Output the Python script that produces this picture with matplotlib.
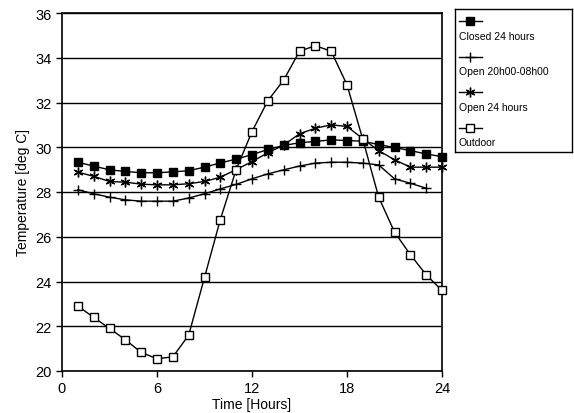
import matplotlib
matplotlib.use('Agg')
import matplotlib.pyplot as plt

plt.rcParams['font.family'] = ['Liberation Sans', 'DejaVu Sans']

# hourly temperatures
hours = list(range(1, 25))
closed_24h = [29.33, 29.16, 28.99, 28.92, 28.86, 28.86, 28.9, 28.95, 29.11, 29.3, 29.47, 29.67,
              29.9, 30.08, 30.2, 30.26, 30.33, 30.3, 30.27, 30.12, 29.99, 29.85, 29.7, 29.58]
open_night = [28.1, 27.92, 27.77, 27.65, 27.59, 27.59, 27.59, 27.73, 27.92, 28.14, 28.34, 28.59,
              28.81, 28.99, 29.16, 29.29, 29.33, 29.33, 29.29, 29.21, 28.59, 28.39, 28.17]
open_24h = [28.89, 28.7, 28.47, 28.44, 28.35, 28.32, 28.32, 28.37, 28.47, 28.66, 29.0, 29.36,
            29.75, 30.1, 30.6, 30.85, 31.0, 30.93, 30.38, 29.85, 29.44, 29.11, 29.11, 29.11]
outdoor = [22.9, 22.4, 21.9, 21.4, 20.83, 20.55, 20.63, 21.6, 24.18, 26.77, 29.0, 30.7,
           32.08, 33.0, 34.29, 34.54, 34.29, 32.79, 30.35, 27.77, 26.21, 25.2, 24.3, 23.6]

labels = ['Closed 24 hours', 'Open 20h00-08h00', 'Open 24 hours', 'Outdoor']
styles = [dict(marker='s', markersize=5.5, markerfacecolor='black'),
          dict(marker='+', markersize=7, markeredgewidth=1.0),
          dict(marker=(6, 2, 0), markersize=7, markeredgewidth=1.0),
          dict(marker='s', markersize=5.5, markerfacecolor='white')]
series = [(hours, closed_24h), (hours[:len(open_night)], open_night), (hours, open_24h), (hours, outdoor)]

fig = plt.figure(figsize=(5.74, 4.14), dpi=100)
ax = fig.add_axes([62 / 574, 1 - 372 / 414, 380 / 574, 358 / 414])

for (x, y), st in zip(series, styles):
    ax.plot(x, y, color='black', linewidth=1.0, markeredgecolor='black', clip_on=False, zorder=3, **st)

ax.set_xlim(0, 24)
ax.set_ylim(20, 36)
ax.set_xticks([0, 6, 12, 18, 24])
ax.set_yticks(range(20, 37, 2))
ax.yaxis.grid(True, color='black', linewidth=1.0)
ax.set_axisbelow(True)
ax.tick_params(direction='out', length=4, width=1, labelsize=10.5, colors='black')
for sp in ax.spines.values():
    sp.set_linewidth(1.2)
ax.set_xlabel('Time [Hours]', fontsize=10, labelpad=1)
ax.set_ylabel('Temperature [deg C]', fontsize=10, labelpad=4)

# legend: handle line on top, label underneath
lax = fig.add_axes([455 / 574, 1 - 153 / 414, 117 / 574, 143 / 414])
lax.set_xlim(0, 1)
lax.set_ylim(0, 1)
lax.set_xticks([])
lax.set_yticks([])
for sp in lax.spines.values():
    sp.set_linewidth(1.0)
for i, (lab, st) in enumerate(zip(labels, styles)):
    yh = 1 - (12 + i * 35.5) / 143
    yt = 1 - (27 + i * 35.5) / 143
    lax.plot([0.03, 0.13, 0.23], [yh, yh, yh], color='black', linewidth=1.0,
             markeredgecolor='black', markevery=[1], **st)
    lax.text(0.03, yt, lab, fontsize=7.5, va='center', ha='left')

fig.savefig('out.png', dpi=100)
